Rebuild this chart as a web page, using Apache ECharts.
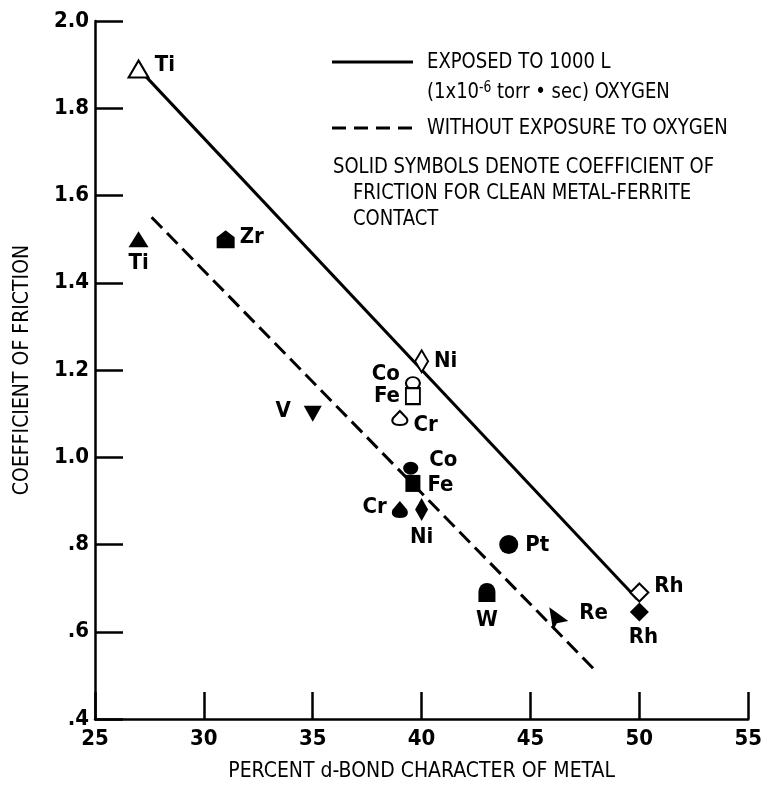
<!DOCTYPE html>
<html>
<head>
<meta charset="utf-8">
<script src="https://cdn.jsdelivr.net/npm/echarts@6/dist/echarts.min.js"></script>
<style>
  html, body { margin: 0; padding: 0; background: #fff; }
  #chart { width: 765px; height: 787px; }
</style>
</head>
<body>
<div id="chart"></div>
<script>
// data
const exposedNames = ['Ti', 'Ni', 'Co', 'Fe', 'Cr', 'Rh'];
const exposedX = [27, 40, 39.6, 39.6, 39, 50];
const exposedY = [1.89, 1.22, 1.17, 1.14, 1.09, 0.69];

const cleanNames = ['Ti', 'Zr', 'V', 'Co', 'Fe', 'Cr', 'Ni', 'Pt', 'W', 'Re', 'Rh'];
const cleanX = [27, 31, 35, 39.5, 39.6, 39, 40, 44, 43, 46.3, 50];
const cleanY = [1.50, 1.50, 1.10, 0.975, 0.94, 0.88, 0.88, 0.80, 0.69, 0.63, 0.645];

// fitted lines (end points)
const exposedFitX = [27.2, 49.9];
const exposedFitY = [1.88, 0.675];
const cleanFitX = [27.6, 48.0];
const cleanFitY = [1.55, 0.51];

const xTicks = [25, 30, 35, 40, 45, 50, 55];
const yTicks = ['.4', '.6', '.8', '1.0', '1.2', '1.4', '1.6', '1.8', '2.0'];

const FONT = "'Liberation Sans Narrow', 'DejaVu Sans Condensed', sans-serif";

// marker shapes
const HOUSE = 'path://M5,0 L10,4 L10,10 L0,10 L0,4 Z';
const ARCH = 'path://M0,10 L0,5 C0,-1.5 10,-1.5 10,5 L10,10 Z';
const DROP = 'path://M5,0 L9.5,5 C11,8 9,10 5,10 C1,10 -1,8 0.5,5 Z';
const FLAG = 'path://M0,0 L10,6 L4,7 L2,10 Z';

// per-point marker / label style
const exposedMarks = [
  { symbol: 'triangle', size: [20, 17], pos: 'right', off: [0, -4] },
  { symbol: 'diamond', size: [13, 22], pos: 'right', off: [0, 0] },
  { symbol: 'circle', size: [14, 12], pos: 'left', off: [0, -9] },
  { symbol: 'rect', size: [14, 16], pos: 'left', off: [0, 0] },
  { symbol: DROP, size: [15, 14], pos: 'right', off: [0, 7] },
  { symbol: 'diamond', size: [18, 18], pos: 'right', off: [0, -6] }
];
const cleanMarks = [
  { symbol: 'triangle', size: [20, 16], pos: 'bottom', off: [0, 0] },
  { symbol: HOUSE, size: [18, 18], pos: 'right', off: [0, -2] },
  { symbol: 'triangle', size: [18, 16], rotate: 180, pos: 'left', off: [-8, -2] },
  { symbol: 'circle', size: [15, 13], pos: 'right', off: [6, -8] },
  { symbol: 'rect', size: [15, 17], pos: 'right', off: [2, 2] },
  { symbol: DROP, size: [16, 17], pos: 'left', off: [0, -2] },
  { symbol: 'diamond', size: [13, 23], pos: 'bottom', off: [0, 0] },
  { symbol: 'circle', size: 19, pos: 'right', off: [2, 1] },
  { symbol: ARCH, size: [17, 19], pos: 'bottom', off: [0, 2] },
  { symbol: FLAG, size: [19, 23], pos: 'right', off: [6, -5] },
  { symbol: 'diamond', size: [19, 19], pos: 'bottom', off: [4, 0] }
];

function buildPoints(names, xs, ys, marks) {
  return names.map((n, i) => ({
    name: n,
    value: [xs[i], ys[i]],
    symbol: marks[i].symbol,
    symbolSize: marks[i].size,
    symbolRotate: marks[i].rotate || 0,
    label: { position: marks[i].pos, offset: marks[i].off }
  }));
}

const pointLabel = {
  show: true,
  formatter: '{b}',
  fontFamily: FONT,
  fontSize: 22,
  fontWeight: 'bold',
  color: '#000'
};

// legend / note text, squeezed a little to get the narrow look of the original
function note(x, y, text, extra) {
  return {
    type: 'text', x: x, y: y, scaleX: 0.91,
    style: Object.assign({ text: text, font: '22px ' + FONT, fill: '#000', verticalAlign: 'middle' }, extra || {})
  };
}

const chart = echarts.init(document.getElementById('chart'));
const option = {
  backgroundColor: '#fff',
  animation: false,
  grid: { left: 95, right: 16, top: 21, bottom: 67 },
  xAxis: {
    type: 'value',
    min: 25,
    max: 55,
    interval: 5,
    name: 'PERCENT d-BOND CHARACTER OF METAL',
    nameLocation: 'middle',
    nameGap: 42,
    nameTextStyle: { fontFamily: FONT, fontSize: 21, color: '#000' },
    axisLine: { lineStyle: { color: '#000', width: 2.5 } },
    axisTick: { inside: true, length: 27, lineStyle: { color: '#000', width: 2.5 } },
    axisLabel: {
      margin: 9,
      fontFamily: FONT,
      fontSize: 22,
      fontWeight: 'bold',
      color: '#000',
      formatter: v => String(xTicks[Math.round((v - 25) / 5)])
    },
    splitLine: { show: false }
  },
  yAxis: {
    type: 'value',
    min: 0.4,
    max: 2.0,
    interval: 0.2,
    name: 'COEFFICIENT OF FRICTION',
    nameLocation: 'middle',
    nameGap: 62,
    nameTextStyle: { fontFamily: FONT, fontSize: 21, color: '#000' },
    axisLine: { lineStyle: { color: '#000', width: 2.5 } },
    axisTick: { inside: true, length: 28, lineStyle: { color: '#000', width: 2.5 } },
    axisLabel: {
      margin: 6,
      fontFamily: FONT,
      fontSize: 22,
      fontWeight: 'bold',
      color: '#000',
      formatter: v => yTicks[Math.round((v - 0.4) / 0.2)]
    },
    splitLine: { show: false }
  },
  graphic: [
    { type: 'line', shape: { x1: 332, y1: 62, x2: 413, y2: 62 }, style: { stroke: '#000', lineWidth: 3 } },
    note(427, 62, 'EXPOSED TO 1000 L'),
    note(427, 92, '(1x10{sup|-6} torr • sec) OXYGEN', {
      rich: { sup: { fontSize: 15, fontFamily: FONT, verticalAlign: 'top', lineHeight: 14 } }
    }),
    { type: 'line', shape: { x1: 332, y1: 128, x2: 413, y2: 128 }, style: { stroke: '#000', lineWidth: 3, lineDash: [14, 8] } },
    note(427, 128, 'WITHOUT EXPOSURE TO OXYGEN'),
    note(333, 167, 'SOLID SYMBOLS DENOTE COEFFICIENT OF'),
    note(353, 193, 'FRICTION FOR CLEAN METAL-FERRITE'),
    note(353, 219, 'CONTACT')
  ],
  series: [
    {
      name: 'EXPOSED TO 1000 L',
      type: 'line',
      symbol: 'none',
      silent: true,
      data: exposedFitX.map((x, i) => [x, exposedFitY[i]]),
      lineStyle: { color: '#000', width: 3 }
    },
    {
      name: 'WITHOUT EXPOSURE TO OXYGEN',
      type: 'line',
      symbol: 'none',
      silent: true,
      data: cleanFitX.map((x, i) => [x, cleanFitY[i]]),
      lineStyle: { color: '#000', width: 3, type: [15, 7] }
    },
    {
      name: 'exposed',
      type: 'scatter',
      data: buildPoints(exposedNames, exposedX, exposedY, exposedMarks),
      itemStyle: { color: '#fff', borderColor: '#000', borderWidth: 2, opacity: 1 },
      label: pointLabel,
      z: 3
    },
    {
      name: 'clean',
      type: 'scatter',
      data: buildPoints(cleanNames, cleanX, cleanY, cleanMarks),
      itemStyle: { color: '#000', opacity: 1 },
      label: pointLabel,
      z: 3
    }
  ]
};
chart.setOption(option);
</script>
</body>
</html>
